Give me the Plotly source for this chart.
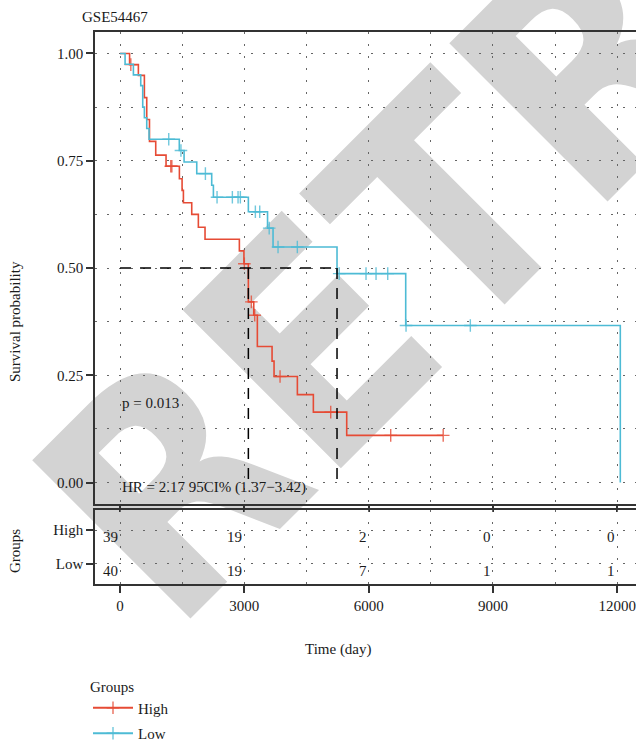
import numpy as np
import plotly.graph_objects as go

# ---- Kaplan-Meier data (time in days, survival probability after each step) ----
high_times = [0, 230, 442, 587, 644, 710, 861, 1110, 1432, 1497, 1529, 1730, 1890,
              2051, 2880, 2990, 3097, 3227, 3314, 3669, 3717, 4280, 4666, 5471]
high_surv = [1.0, 0.974, 0.949, 0.897, 0.846, 0.795, 0.763, 0.737, 0.708, 0.681, 0.652,
             0.625, 0.595, 0.567, 0.540, 0.510, 0.421, 0.390, 0.317, 0.283, 0.247,
             0.205, 0.164, 0.110]
high_censor = [260, 1224, 1250, 3000, 3169, 3250, 3862, 5085, 6533, 7800]

low_times = [0, 121, 322, 499, 547, 587, 644, 700, 1430, 1545, 1851, 2212, 2253,
             3097, 3560, 3693, 5237, 6895, 12075]
low_surv = [1.0, 0.975, 0.950, 0.925, 0.875, 0.850, 0.825, 0.800, 0.774, 0.747, 0.720,
            0.693, 0.665, 0.631, 0.593, 0.549, 0.487, 0.366, 0.0]
low_censor = [1175, 1470, 2060, 2341, 2711, 2848, 2904, 3266, 3371, 3600, 3813, 4279,
              5290, 5937, 6179, 6461, 6903, 8455]

# ---- number at risk table ----
risk_times = [0, 3000, 6000, 9000, 12000]
risk_high = [39, 19, 2, 0, 0]
risk_low = [40, 19, 7, 1, 1]

p_text = "p = 0.013"
hr_text = "HR = 2.17 95CI% (1.37\u22123.42)"
watermark = "RETRACTED"

# ---- styling ----
FONT = "Liberation Serif"
TXT = "#1a1a1a"
RED = "#E64B35"
BLUE = "#4DBBD5"
AX = "#333333"
GRID = "#666666"
W, H = 636, 751
XR = [-605, 12454]
YR = [-0.05, 1.05]

# watermark: a single rotated tick label on a hidden axis pair whose
# subplot is drawn underneath the survival panel
WM_AXIS_X = 63      # px from the left where the label starts
WM_ANCHOR_Y = 574   # px from the top of the label anchor
WM_FONT = dict(family="DejaVu Sans Condensed, DejaVu Sans", size=307,
               color="#D3D3D3", weight="bold")


def step_value(times, surv, t):
    i = np.searchsorted(np.asarray(times), t, side="right") - 1
    return float(np.asarray(surv)[i])


def median_time(times, surv):
    s = np.asarray(surv)
    return float(np.asarray(times)[np.argmax(s <= 0.5)])


fig = go.Figure()

# placeholder so the watermark subplot exists
fig.add_trace(go.Scatter(x=[None], y=[None], mode="markers", showlegend=False,
                         hoverinfo="skip", xaxis="x", yaxis="y"))

groups = [
    ("High", high_times, high_surv, high_censor, RED),
    ("Low", low_times, low_surv, low_censor, BLUE),
]

for name, times, surv, cens, col in groups:
    xs = list(times)
    ys = list(surv)
    end = max(cens)
    if end > xs[-1]:
        xs.append(end)
        ys.append(surv[-1])
    fig.add_trace(go.Scatter(
        x=xs, y=ys, mode="lines", line=dict(color=col, width=1.6, shape="hv"),
        showlegend=False, hoverinfo="skip", xaxis="x2", yaxis="y2"))
    cy = [step_value(times, surv, t) for t in cens]
    fig.add_trace(go.Scatter(
        x=cens, y=cy, mode="markers",
        marker=dict(symbol="cross-thin", size=9, color=col, opacity=0.8,
                    line=dict(color=col, width=1.4)),
        showlegend=False, hoverinfo="skip", xaxis="x2", yaxis="y2"))

# median survival guides
meds = [median_time(t, s) for _, t, s, _, _ in groups]
dash = dict(color="black", width=1.5, dash="11px,9px")
fig.add_trace(go.Scatter(x=[0, max(meds)], y=[0.5, 0.5], mode="lines", line=dash,
                         showlegend=False, hoverinfo="skip", xaxis="x2", yaxis="y2"))
for m in meds:
    fig.add_trace(go.Scatter(x=[m, m], y=[0.5, 0.0], mode="lines", line=dash,
                             showlegend=False, hoverinfo="skip", xaxis="x2", yaxis="y2"))

# legend entries
for name, _, _, _, col in groups:
    fig.add_trace(go.Scatter(
        x=[None], y=[None], mode="lines+markers", name=name,
        line=dict(color=col, width=1.8),
        marker=dict(symbol="cross-thin", size=9, color=col, opacity=0.8,
                    line=dict(color=col, width=1.4)),
        legendgroup=name, xaxis="x2", yaxis="y2"))

annotations = [
    dict(text=p_text, x=0, y=0.185, xref="x2", yref="y2", xanchor="left",
         yanchor="middle", showarrow=False),
    dict(text=hr_text, x=0, y=-0.0105, xref="x2", yref="y2", xanchor="left",
         yanchor="middle", showarrow=False),
    dict(text="Survival probability", x=15 / W, y=1 - 322 / H, xref="paper",
         yref="paper", textangle=-90, showarrow=False, xanchor="center",
         yanchor="middle"),
    dict(text="Groups", x=15 / W, y=1 - 551 / H, xref="paper", yref="paper",
         textangle=-90, showarrow=False, xanchor="center", yanchor="middle"),
    dict(text="Time (day)", x=338 / W, y=1 - 649 / H, xref="paper", yref="paper",
         showarrow=False, xanchor="center", yanchor="middle"),
]
for row, counts in ((2, risk_high), (1, risk_low)):
    for t, n in zip(risk_times, counts):
        annotations.append(dict(text=str(n), x=t, y=row, xref="x3", yref="y3",
                                xanchor="right", yanchor="top", showarrow=False,
                                yshift=3))

grid = dict(showgrid=True, gridcolor=GRID, gridwidth=1.1, griddash="2px,10px")
axline = dict(showline=True, linecolor=AX, linewidth=1.5, ticks="outside",
              tickcolor=AX, tickwidth=2, ticklen=7, zeroline=False,
              automargin=False)
minor_x = dict(dtick=1500, tick0=0, showgrid=True, gridcolor=GRID, gridwidth=1.1,
               griddash="2px,10px", ticks="")

fig.update_layout(
    width=W, height=H, margin=dict(l=0, r=0, t=0, b=0, autoexpand=False),
    paper_bgcolor="white", plot_bgcolor="rgba(0,0,0,0)",
    font=dict(family=FONT, size=15, color=TXT),
    title=dict(text="GSE54467", x=82 / W, xanchor="left", y=1 - 17 / H,
               yanchor="middle", font=dict(family=FONT, size=15, color=TXT)),
    # hidden axis pair carrying the watermark label
    xaxis=dict(domain=[0, WM_AXIS_X / W], range=[0, 1], visible=False,
               anchor="y", fixedrange=True, automargin=False),
    yaxis=dict(domain=[0, 1], range=[0, H], anchor="x", side="right",
               tickvals=[H - WM_ANCHOR_Y], ticktext=[watermark], tickangle=-45,
               tickfont=WM_FONT, ticks="", showline=False, showgrid=False,
               zeroline=False, ticklabeloverflow="allow", fixedrange=True,
               automargin=False),
    # survival panel
    xaxis2=dict(domain=[95 / W, 1], range=XR, anchor="y2", tick0=0, dtick=3000,
                showticklabels=False, mirror=True, minor=minor_x,
                **grid, **{**axline, "ticklen": 6}),
    yaxis2=dict(domain=[1 - 504 / H, 1 - 32 / H], range=YR, anchor="x2",
                tickvals=[0, 0.25, 0.5, 0.75, 1.0],
                ticktext=["0.00", "0.25", "0.50", "0.75", "1.00"],
                minor=dict(dtick=0.125, tick0=0, showgrid=True, gridcolor=GRID,
                           gridwidth=1.1, griddash="2px,10px", ticks=""),
                **grid, **axline),
    # number-at-risk table
    xaxis3=dict(domain=[95 / W, 1], range=XR, anchor="y3", tick0=0, dtick=3000,
                tickformat="d", mirror=True, minor=minor_x, **grid, **axline),
    yaxis3=dict(domain=[1 - 584 / H, 1 - 510 / H], range=[0.4, 2.6], anchor="x3",
                tickvals=[1, 2], ticktext=["Low", "High"], **grid, **axline),
    legend=dict(title=dict(text="Groups", font=dict(family=FONT, size=15)),
                x=88 / W, y=1 - 672 / H, xanchor="left", yanchor="top",
                bgcolor="rgba(0,0,0,0)", font=dict(family=FONT, size=15),
                traceorder="grouped", tracegroupgap=3, itemwidth=40),
    annotations=annotations,
)

fig.write_html("out.html")
